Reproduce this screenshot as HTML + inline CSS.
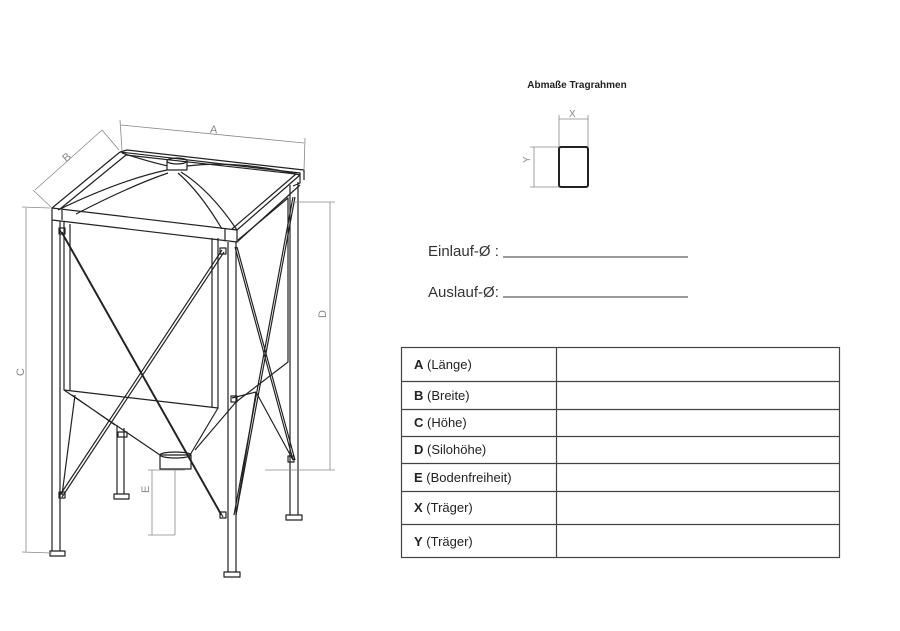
<!DOCTYPE html>
<html><head><meta charset="utf-8"><style>
body{margin:0;background:#fff;width:900px;height:631px;overflow:hidden;font-family:"Liberation Sans",Arial,sans-serif}
</style></head><body>
<svg width="900" height="631" viewBox="0 0 900 631" xmlns="http://www.w3.org/2000/svg" style="position:absolute;left:0;top:0">
<g fill="none" stroke="#222" stroke-width="1.2" stroke-linejoin="round">
<!-- silo body front -->
<path d="M64 222 L64 390 L218 408 L218 238"/>
<path d="M70 224 L70 390"/>
<path d="M212 238 L212 407"/>
<!-- right face -->
<path d="M238 240 L288 198 L288 362 L236 402"/>
<!-- cone -->
<path d="M64 390 L160 455 M218 408 L190 455 M236 402 L195 450 M72 395 L115 425"/>
<rect x="160" y="455" width="31" height="14" fill="#fff"/>
<ellipse cx="175.5" cy="455" rx="15.5" ry="3"/>
<!-- dome -->
<path d="M58 210 Q120 180 167 170 M237 230 Q210 190 181 172 M300 175 Q240 160 187 166 M122 153 Q150 162 168 166"/>
<path d="M76 214 Q130 186 168 173 M222 229 Q200 192 178 173"/>
<rect x="167" y="161" width="20" height="9" fill="#fff"/>
<ellipse cx="177" cy="161" rx="10" ry="3" fill="#fff"/>
<!-- frame -->
<path d="M120 152 L300 173 L300 183 L293 186 M120 152 L52 208 M120 152 L127 150 L304 170 L304 180"/>
<path d="M52 208 L237 230 L300 175" />
<path d="M52 208 L52 220 L237 242 L237 230 M237 242 L300 185"/>
<path d="M60 209 L126 155 L296 174 L232 229"/>
<path d="M62 210 L62 220 M225 229 L225 241"/>
<!-- legs -->
<path d="M52 220 L52 553 M60 221 L60 553"/>
<path d="M228 242 L228 575 M236 242 L236 575"/>
<path d="M290 185 L290 518 M298 182 L298 518"/>
<path d="M117 425 L117 497 M124 428 L124 497"/>
<!-- feet -->
<rect x="50" y="551" width="15" height="5" fill="#fff"/>
<rect x="224" y="572" width="16" height="5" fill="#fff"/>
<rect x="286" y="515" width="16" height="5" fill="#fff"/>
<rect x="114" y="494" width="15" height="5" fill="#fff"/>
<!-- bracing -->
<path d="M62 232 L223 517 M60 230 L221 515"/>
<path d="M224 252 L62 497 M222 250 L60 495"/>
<path d="M235 247 L293 460 M237 247 L295 460"/>
<path d="M293 197 L234 515 M295 197 L236 515"/>
<path d="M75 395 L62 495 M256 392 L293 460 M256 392 L236 515 M232 398 L256 392"/>
<!-- brackets -->
<rect x="59" y="228" width="6" height="6"/><rect x="220" y="248" width="6" height="6"/>
<rect x="231" y="396" width="6" height="6"/><rect x="59" y="492" width="6" height="6"/>
<rect x="220" y="512" width="6" height="6"/><rect x="288" y="456" width="6" height="6"/>
<rect x="118" y="432" width="9" height="5"/>
</g>
<!-- dimension lines -->
<g stroke="#888" stroke-width="0.8" fill="none">
<path d="M122 150 L120 120 M304 170 L305 138 M121 125 L304 143"/>
<path d="M119 150 L102 130 M52 208 L33 190 M35 190 L102 130"/>
<path d="M50 208 L22 207 M52 553 L22 552 M26 208 L26 552"/>
<path d="M290 202 L335 202 M265 470 L335 470 M330 202 L330 470"/>
<path d="M148 470 L185 470 M148 535 L175 535 M175 470 L175 535 M152 470 L152 535"/>
<path d="M559 147 L559 115 M588 147 L588 115 M559 119 L588 119"/>
<path d="M559 147 L530 147 M559 187 L530 187 M534 147 L534 187"/>
</g>
<g fill="#888" font-size="11">
<text x="210" y="133" transform="rotate(5 213 130)">A</text>
<text x="62" y="161" transform="rotate(-40 66 156)">B</text>
<text x="24" y="384" transform="rotate(-90 20 380)">C</text>
<text x="326" y="326" transform="rotate(-90 322 322)">D</text>
<text x="149" y="501" transform="rotate(-90 145 497)">E</text>
<text x="569" y="117" font-size="10">X</text>
<text x="530" y="171" font-size="10" transform="rotate(-90 526 167)">Y</text>
</g>
<text x="577" y="88" font-size="10" font-weight="bold" text-anchor="middle" fill="#222">Abmaße Tragrahmen</text>
<rect x="559" y="147" width="29" height="40" rx="2" fill="none" stroke="#222" stroke-width="2"/>
<text x="428" y="256" font-size="15" fill="#333">Einlauf-Ø :</text>
<line x1="503" y1="257" x2="688" y2="257" stroke="#333" stroke-width="1"/>
<text x="428" y="297" font-size="15" fill="#333">Auslauf-Ø:</text>
<line x1="503" y1="297" x2="688" y2="297" stroke="#333" stroke-width="1"/>
<!-- table -->
<g stroke="#444" stroke-width="1.2" fill="none">
<rect x="401.5" y="347.5" width="438" height="210"/>
<path d="M556.5 347 L556.5 558 M401 381.5 L840 381.5 M401 409.5 L840 409.5 M401 436.5 L840 436.5 M401 463.5 L840 463.5 M401 491.5 L840 491.5 M401 524.5 L840 524.5"/>
</g>
<g font-size="13" fill="#222">
<text x="414" y="369"><tspan font-weight="bold">A</tspan> (Länge)</text>
<text x="414" y="400"><tspan font-weight="bold">B</tspan> (Breite)</text>
<text x="414" y="427"><tspan font-weight="bold">C</tspan> (Höhe)</text>
<text x="414" y="454"><tspan font-weight="bold">D</tspan> (Silohöhe)</text>
<text x="414" y="482"><tspan font-weight="bold">E</tspan> (Bodenfreiheit)</text>
<text x="414" y="512"><tspan font-weight="bold">X</tspan> (Träger)</text>
<text x="414" y="546"><tspan font-weight="bold">Y</tspan> (Träger)</text>
</g>
</svg>
</body></html>
